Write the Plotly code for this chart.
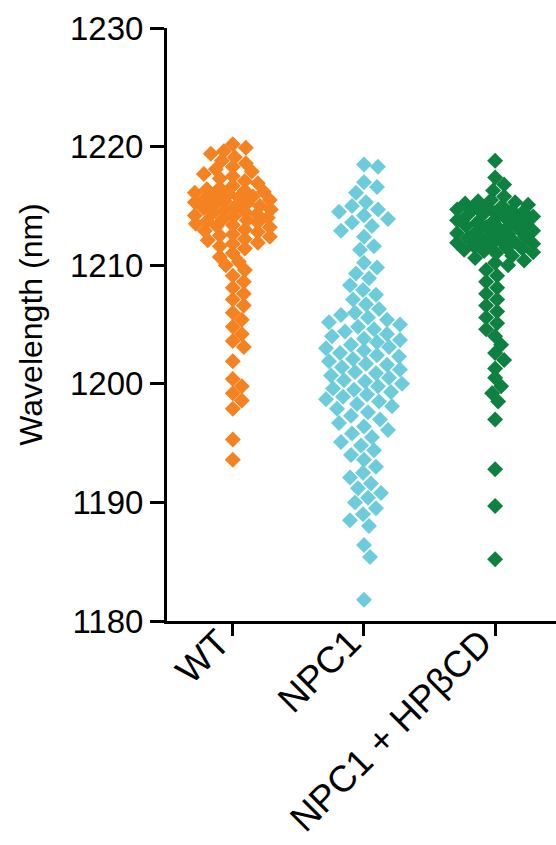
import plotly.graph_objects as go
import numpy as np

# ---------------- data ----------------
categories = ["WT", "NPC1", "NPC1 + HPβCD"]

wt_values = [
    1220.2, 1219.9, 1219.6, 1219.4, 1219.1, 1218.8, 1218.6,
    1218.3, 1218.1, 1217.9, 1217.7, 1217.5, 1217.3, 1217.1, 1216.9, 1216.7, 1216.5,
    1216.4, 1216.3, 1216.2, 1216.1, 1216.0, 1215.9, 1215.8, 1215.7, 1215.6, 1215.5,
    1215.4, 1215.3, 1215.2, 1215.1, 1215.0, 1214.9, 1214.8, 1214.7, 1214.6, 1214.5,
    1214.4, 1214.3, 1214.2, 1214.1, 1214.0, 1213.9, 1213.8, 1213.7, 1213.6, 1213.5,
    1213.4, 1213.3, 1213.2, 1213.0, 1212.9, 1212.8, 1212.6, 1212.5, 1212.4, 1212.2,
    1212.1, 1211.9, 1211.8, 1211.6,
    1211.4, 1211.0, 1210.7, 1210.3, 1210.0,
    1209.6, 1209.1, 1208.6, 1208.1, 1207.6, 1207.1, 1206.6, 1206.0, 1205.4, 1204.8,
    1204.2, 1203.6, 1203.1, 1201.9, 1200.4, 1199.8, 1199.2, 1198.6, 1197.9,
    1195.3, 1193.6,
]

npc1_values = [
    1218.5, 1218.3, 1217.0, 1216.6, 1216.1,
    1215.3, 1215.0, 1214.7, 1214.5, 1214.2, 1213.9, 1213.6, 1213.3, 1212.9, 1212.4,
    1211.6, 1211.3, 1210.2, 1209.8, 1209.3, 1208.9, 1208.3, 1207.9, 1207.5, 1207.1,
    1206.7, 1206.3,
    1206.0, 1205.8, 1205.6, 1205.4, 1205.2, 1205.0, 1204.8, 1204.6, 1204.4, 1204.2,
    1204.0, 1203.8, 1203.7, 1203.5, 1203.3, 1203.1, 1203.0, 1202.8, 1202.6, 1202.4,
    1202.3, 1202.1, 1201.9, 1201.7, 1201.6, 1201.4, 1201.2, 1201.0, 1200.9, 1200.7,
    1200.5, 1200.3, 1200.2, 1200.0, 1199.8, 1199.6, 1199.5, 1199.3, 1199.1, 1198.9,
    1198.7, 1198.5, 1198.3, 1198.1, 1197.9, 1197.6, 1197.3, 1197.0, 1196.7, 1196.4,
    1196.1,
    1195.8, 1195.5, 1195.1, 1194.8, 1194.4, 1194.0, 1193.6,
    1193.0, 1192.5, 1192.1, 1191.6, 1191.2, 1190.8, 1190.4, 1190.0, 1189.5, 1189.0,
    1188.5, 1188.0,
    1186.4, 1185.4, 1181.8,
]

hpbcd_values = [
    1218.8,
    1217.4, 1216.8, 1216.3, 1215.8,
    1215.5, 1215.4, 1215.3, 1215.2, 1215.1, 1215.0, 1214.9, 1214.8, 1214.7, 1214.6,
    1214.5, 1214.4, 1214.3, 1214.2, 1214.1, 1214.0, 1213.9, 1213.8, 1213.7, 1213.6,
    1213.5, 1213.4, 1213.3, 1213.2, 1213.1, 1213.0, 1212.9, 1212.8, 1212.7, 1212.6,
    1212.5, 1212.4, 1212.3, 1212.2, 1212.1, 1212.0, 1211.9, 1211.8, 1211.7, 1211.6,
    1211.5, 1211.4, 1211.3, 1211.2, 1211.1, 1211.0, 1210.8, 1210.6, 1210.4, 1210.2,
    1210.0,
    1209.6, 1209.1, 1208.6, 1208.1, 1207.6,
    1207.1, 1206.6, 1206.1, 1205.6, 1205.1, 1204.6,
    1204.0, 1203.3, 1202.6, 1202.0, 1201.3,
    1200.5, 1199.8, 1199.2, 1198.5,
    1197.0, 1192.8, 1189.7, 1185.2,
]

series = [wt_values, npc1_values, hpbcd_values]
colors = ["#F58220", "#6DCCDC", "#0E8040"]
# swarm packing per group: (collision distance px, vertical weight, half-width cap px)
packing = [(13.0, 1.4, 38.0), (14.0, 1.1, 38.0), (13.0, 1.4, 38.0)]

# ---------------- layout geometry ----------------
W, H = 556, 845
ML, MR, MT, MB = 167, 0, 28, 224
x_range = [-0.502, 2.464]
y_range = [1180, 1230]
px_x = (W - ML - MR) / (x_range[1] - x_range[0])
px_y = (H - MT - MB) / (y_range[1] - y_range[0])


def swarm(values, d=13.0, k=1.4, cap=38.0):
    """Beeswarm offsets (data units) computed from the values and the axis scale."""
    order = np.argsort(values)[::-1]
    placed = []
    offsets = np.zeros(len(values))
    cands = [0.0]
    for s in np.arange(1.0, cap + 0.5, 1.0):
        cands += [s, -s]
    for i in order:
        y = values[i] * px_y
        best, best_d = 0.0, -1.0
        for c in cands:
            md = 1e9
            for (px, py) in placed:
                dy = (y - py) * k
                if abs(dy) < d:
                    dist = ((c - px) ** 2 + dy ** 2) ** 0.5
                    if dist < md:
                        md = dist
            if md >= d:
                best, best_d = c, md
                break
            if md > best_d + 0.5:
                best, best_d = c, md
        placed.append((best, y))
        offsets[i] = best / px_x
    return offsets


fig = go.Figure()
for idx, (vals, col) in enumerate(zip(series, colors)):
    vals = np.array(vals)
    d, k, cap = packing[idx]
    off = swarm(vals, d=d, k=k, cap=cap)
    fig.add_trace(go.Scatter(
        x=idx + off, y=vals, mode="markers",
        marker=dict(symbol="diamond", size=12.3, color=col, line=dict(width=0)),
        name=categories[idx], showlegend=False, hoverinfo="y",
    ))

font_family = "Liberation Sans, Arial, sans-serif"
fig.update_layout(
    width=W, height=H,
    margin=dict(l=ML, r=MR, t=MT, b=MB, pad=0),
    paper_bgcolor="white", plot_bgcolor="white",
    font=dict(family=font_family, size=33, color="black"),
    xaxis=dict(
        range=x_range, tickvals=[0, 1, 2], ticktext=categories,
        tickangle=-45, ticks="outside", ticklen=12, tickwidth=3, tickcolor="black",
        showline=True, linewidth=3, linecolor="black",
        showgrid=False, zeroline=False, tickfont=dict(size=37),
        ticklabelstandoff=-30, ticklabelshift=-14,
    ),
    yaxis=dict(
        range=y_range, tickvals=list(range(1180, 1231, 10)),
        ticks="outside", ticklen=14, tickwidth=3, tickcolor="black",
        showline=True, linewidth=3, linecolor="black",
        showgrid=False, zeroline=False, tickfont=dict(size=33),
        title=dict(text="Wavelength (nm)", font=dict(size=32), standoff=18),
    ),
)

fig.write_html("out.html")
